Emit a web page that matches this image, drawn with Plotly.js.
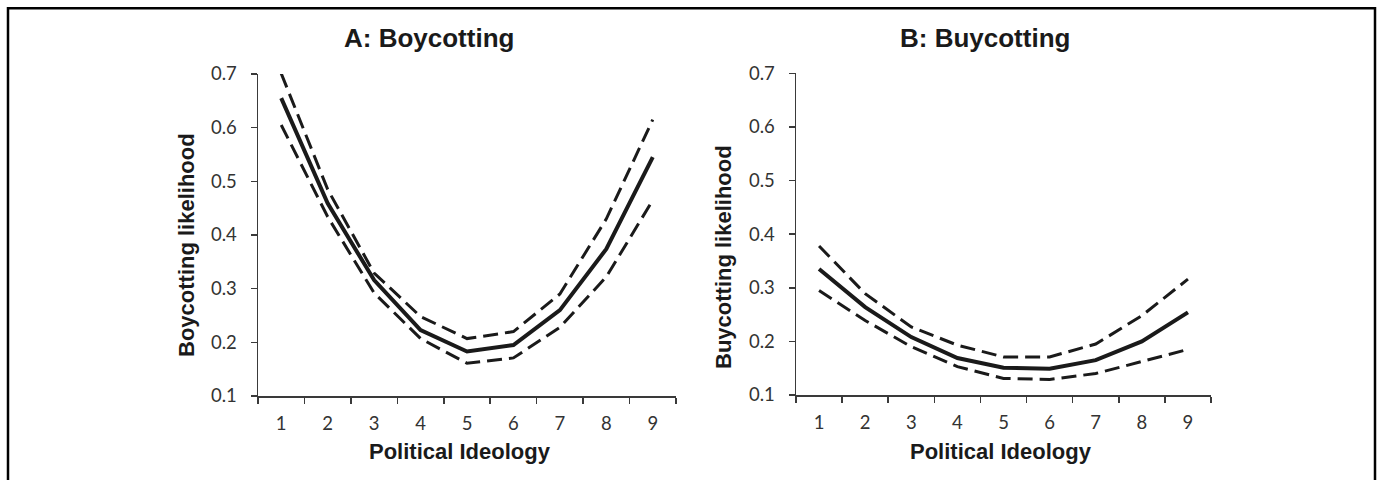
<!DOCTYPE html>
<html>
<head>
<meta charset="utf-8">
<script src="https://cdn.plot.ly/plotly-3.0.1.min.js"></script>
<style>html,body{margin:0;padding:0;background:#fff;}#chart{width:1380px;height:480px;}</style>
</head>
<body>
<div id="chart"></div>
<script>
// ---- Data ----
const categories = ['1','2','3','4','5','6','7','8','9'];

// Panel A: Boycotting
const boyMean  = [0.655, 0.459, 0.316, 0.223, 0.183, 0.195, 0.260, 0.374, 0.545];
const boyUpper = [0.701, 0.485, 0.329, 0.248, 0.207, 0.220, 0.290, 0.430, 0.615];
const boyLower = [0.605, 0.434, 0.292, 0.207, 0.161, 0.171, 0.228, 0.322, 0.465];

// Panel B: Buycotting
const buyMean  = [0.335, 0.264, 0.208, 0.169, 0.151, 0.149, 0.165, 0.200, 0.254];
const buyUpper = [0.378, 0.289, 0.227, 0.193, 0.171, 0.171, 0.195, 0.248, 0.316];
const buyLower = [0.295, 0.239, 0.190, 0.153, 0.131, 0.129, 0.140, 0.162, 0.185];

const yTicks = [0.1, 0.2, 0.3, 0.4, 0.5, 0.6, 0.7];

const titleA = 'A: Boycotting';
const titleB = 'B: Buycotting';
const yTitleA = 'Boycotting likelihood';
const yTitleB = 'Buycotting likelihood';
const xTitle = 'Political Ideology';

// ---- Styling ----
const W = 1380, H = 480;
const lineCol = '#1a1a1a';
const solid = {color: lineCol, width: 4};
const dashed = {color: lineCol, width: 3, dash: '15px,7px'};

function tr(y, line, xa, ya) {
  return {x: categories, y: y, type: 'scatter', mode: 'lines', line: line,
          xaxis: xa, yaxis: ya, showlegend: false, hoverinfo: 'skip'};
}

const data = [
  tr(boyUpper, dashed, 'x', 'y'),
  tr(boyLower, dashed, 'x', 'y'),
  tr(boyMean, solid, 'x', 'y'),
  tr(buyUpper, dashed, 'x2', 'y2'),
  tr(buyLower, dashed, 'x2', 'y2'),
  tr(buyMean, solid, 'x2', 'y2')
];

const tickFont = {family: 'Lato, "Open Sans", sans-serif', size: 18.5, color: '#333333'};
const axColor = '#3a3a3a';

function xAxis(d0, d1, anchor) {
  return {
    domain: [d0 / W, d1 / W], anchor: anchor, type: 'category',
    range: [-0.5, categories.length - 0.5],
    tickson: 'boundaries', ticks: 'outside', ticklen: 6, tickwidth: 1.5, tickcolor: axColor,
    showline: true, linecolor: axColor, linewidth: 1.5, showgrid: false, zeroline: false,
    tickfont: tickFont, ticklabelstandoff: 10, fixedrange: true
  };
}
function yAxis(top, bottom, anchor) {
  return {
    domain: [1 - bottom / H, 1 - top / H], anchor: anchor, range: [0.1, 0.7],
    tickvals: yTicks, tickformat: '.1f', ticks: 'outside', ticklen: 6, tickwidth: 1.5,
    tickcolor: axColor, showline: true, linecolor: axColor, linewidth: 1.5,
    showgrid: false, zeroline: false, tickfont: tickFont, ticklabelstandoff: 10, fixedrange: true
  };
}

const headFont = {family: '"Liberation Sans", Arial, sans-serif', size: 26, color: '#1a1a1a', weight: 700};
const axTitleFont = {family: '"Liberation Sans", Arial, sans-serif', size: 22, color: '#1a1a1a', weight: 700};

function ann(text, px, py, font, angle) {
  return {text: '<b>' + text + '</b>', x: px / W, y: 1 - py / H, xref: 'paper', yref: 'paper',
          xanchor: 'center', yanchor: 'middle', showarrow: false, font: font,
          textangle: angle || 0};
}

const layout = {
  width: W, height: H, autosize: false,
  margin: {l: 0, r: 0, t: 0, b: 0, pad: 0},
  paper_bgcolor: '#ffffff', plot_bgcolor: '#ffffff',
  xaxis: xAxis(258, 676, 'y'),
  yaxis: yAxis(74, 396, 'x'),
  xaxis2: xAxis(796, 1211, 'y2'),
  yaxis2: yAxis(73.3, 395, 'x2'),
  annotations: [
    ann(titleA, 428.5, 37.5, headFont),
    ann(titleB, 985, 37.5, headFont),
    ann(yTitleA, 187, 245, axTitleFont, -90),
    ann(yTitleB, 723, 257, axTitleFont, -90),
    ann(xTitle, 460, 451, axTitleFont),
    ann(xTitle, 1001, 451, axTitleFont)
  ],
  shapes: [{
    type: 'rect', xref: 'paper', yref: 'paper',
    x0: 8 / W, x1: 1375 / W, y0: -0.1, y1: 1 - 8.3 / H,
    line: {color: '#000000', width: 2.5}, fillcolor: 'rgba(0,0,0,0)', layer: 'above'
  }]
};

Plotly.newPlot('chart', data, layout, {displayModeBar: false, staticPlot: true});
</script>
</body>
</html>
